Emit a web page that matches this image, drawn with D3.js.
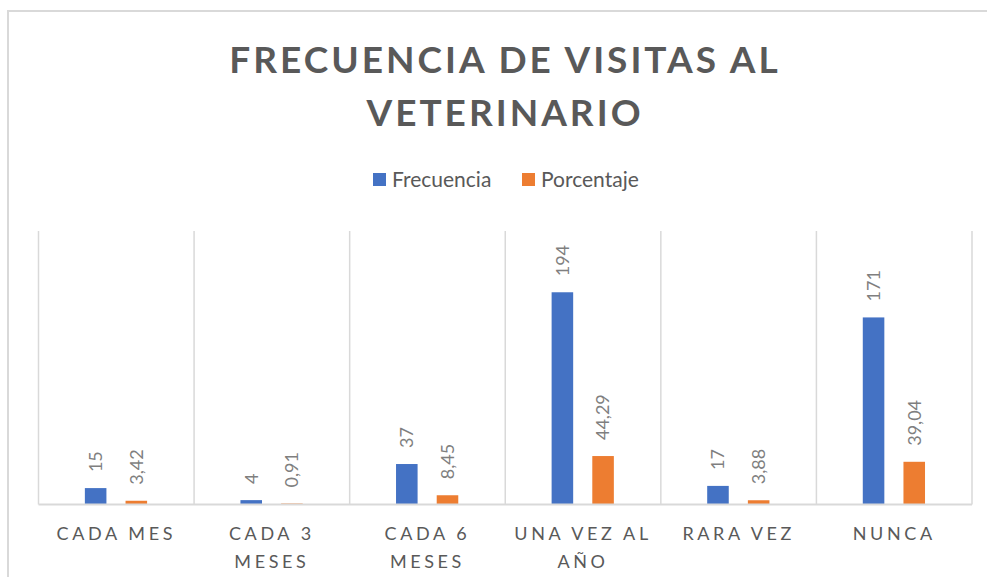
<!DOCTYPE html>
<html>
<head>
<meta charset="utf-8">
<script src="https://cdn.jsdelivr.net/npm/d3@7"></script>
<style>
  html, body { margin: 0; padding: 0; background: #fff; }
  svg { display: block; font-family: Lato, "Open Sans", sans-serif; }
</style>
</head>
<body>
<div id="chart"></div>
<script>
var categories = ["CADA MES", "CADA 3 MESES", "CADA 6 MESES", "UNA VEZ AL AÑO", "RARA VEZ", "NUNCA"];
var seriesNames = ["Frecuencia", "Porcentaje"];
var frecuencia = [15, 4, 37, 194, 17, 171];
var porcentaje = [3.42, 0.91, 8.45, 44.29, 3.88, 39.04];
var colors = ["#4472C4", "#ED7D31"];

var width = 987, height = 577;
var plotLeft = 38.5, plotRight = 972, plotTop = 231, plotBottom = 504.5;

var svg = d3.select("#chart").append("svg")
  .attr("width", width)
  .attr("height", height);

// chart border
svg.append("rect")
  .attr("x", 8).attr("y", 11)
  .attr("width", 1000).attr("height", 600)
  .attr("fill", "none")
  .attr("stroke", "#d9d9d9")
  .attr("stroke-width", 2);

// title
var title = svg.append("text")
  .attr("text-anchor", "middle")
  .attr("fill", "#595959")
  .style("font-size", "37px")
  .style("font-weight", "bold")
  .style("letter-spacing", "3px");
title.append("tspan").attr("x", 505).attr("y", 73).text("FRECUENCIA DE VISITAS AL");
title.append("tspan").attr("x", 505).attr("y", 126).text("VETERINARIO");

// legend
var legend = svg.append("g").attr("transform", "translate(373,173)");
var legendX = [0, 149];
seriesNames.forEach(function (name, i) {
  var g = legend.append("g").attr("transform", "translate(" + legendX[i] + ",0)");
  g.append("rect").attr("width", 13).attr("height", 13).attr("fill", colors[i]);
  g.append("text")
    .attr("x", 19).attr("y", 13.5)
    .attr("fill", "#595959")
    .style("font-size", "21px")
    .text(name);
});

var data = categories.map(function (c, i) {
  return { cat: c, values: [frecuencia[i], porcentaje[i]] };
});

var x0 = d3.scaleBand()
  .domain(categories)
  .range([plotLeft, plotRight])
  .padding(0);

var bw = x0.bandwidth();
var x1 = d3.scaleBand()
  .domain(seriesNames)
  .range([bw * 0.298, bw * 0.698])
  .paddingInner(0.47);

var y = d3.scaleLinear()
  .domain([0, 250])
  .range([plotBottom, plotTop]);

// vertical gridlines between categories
var edges = categories.map(function (c) { return x0(c); }).concat([plotRight]);
svg.append("g").selectAll("line")
  .data(edges)
  .enter().append("line")
  .attr("x1", function (d) { return d; })
  .attr("x2", function (d) { return d; })
  .attr("y1", plotTop)
  .attr("y2", plotBottom)
  .attr("stroke", "#d9d9d9")
  .attr("stroke-width", 1.5);

// bars
var groups = svg.append("g").selectAll("g")
  .data(data)
  .enter().append("g")
  .attr("transform", function (d) { return "translate(" + x0(d.cat) + ",0)"; });

var rows = function (d) {
  return d.values.map(function (v, i) { return { key: seriesNames[i], value: v, i: i }; });
};

groups.selectAll("rect")
  .data(rows)
  .enter().append("rect")
  .attr("x", function (d) { return x1(d.key); })
  .attr("width", x1.bandwidth())
  .attr("y", function (d) { return y(d.value); })
  .attr("height", function (d) { return y(0) - y(d.value); })
  .attr("fill", function (d) { return colors[d.i]; });

// data labels
var fmt = function (v, i) {
  return i === 0 ? String(v) : d3.format(".2f")(v).replace(".", ",");
};
groups.selectAll("text")
  .data(rows)
  .enter().append("text")
  .attr("transform", function (d) {
    return "translate(" + (x1(d.key) + x1.bandwidth() / 2) + "," + (y(d.value) - 16) + ") rotate(-90)";
  })
  .attr("dy", "0.35em")
  .attr("fill", "#7f7f7f")
  .style("font-size", "18px")
  .text(function (d) { return fmt(d.value, d.i); });

// x axis baseline
svg.append("line")
  .attr("x1", plotLeft).attr("x2", plotRight)
  .attr("y1", plotBottom).attr("y2", plotBottom)
  .attr("stroke", "#d9d9d9")
  .attr("stroke-width", 2);

// category labels with wrapping
var xAxis = d3.axisBottom(x0).tickSize(0).tickPadding(0);
var axisG = svg.append("g")
  .attr("transform", "translate(0," + plotBottom + ")")
  .call(xAxis);
axisG.select(".domain").remove();
axisG.selectAll(".tick text")
  .attr("fill", "#595959")
  .attr("y", 35)
  .attr("dy", 0)
  .style("font-size", "18px")
  .style("font-family", "Lato, 'Open Sans', sans-serif")
  .style("letter-spacing", "3.6px")
  .each(function () {
    var t = d3.select(this);
    var words = t.text().split(" ");
    t.text(null);
    var line = [];
    var lineNo = 0;
    var tspan = t.append("tspan").attr("x", 0).attr("y", 35);
    words.forEach(function (w) {
      line.push(w);
      tspan.text(line.join(" "));
      if (tspan.node().getComputedTextLength() > 145 && line.length > 1) {
        line.pop();
        tspan.text(line.join(" "));
        line = [w];
        lineNo++;
        tspan = t.append("tspan").attr("x", 0).attr("y", 35 + lineNo * 28).text(w);
      }
    });
  });
</script>
</body>
</html>
